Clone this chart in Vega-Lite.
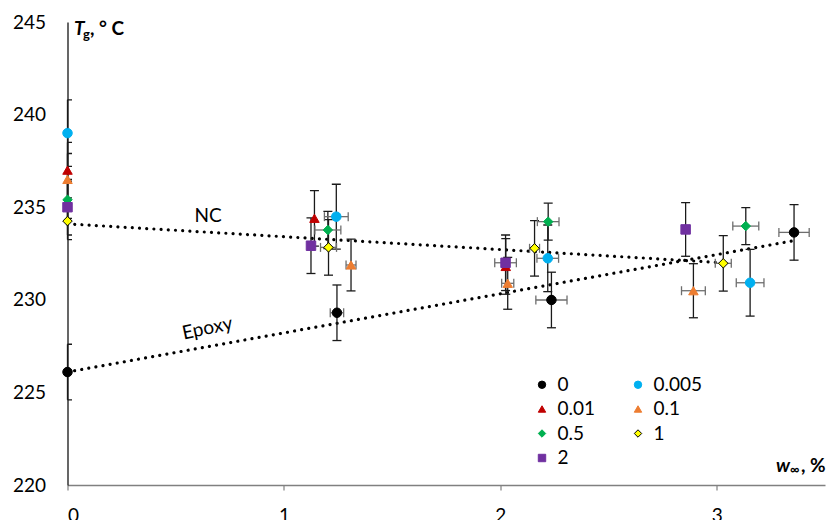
{
  "$schema": "https://vega.github.io/schema/vega-lite/v6.json",
  "width": 757.5,
  "height": 463,
  "autosize": {"type": "none"},
  "padding": {"left": 67.5, "top": 22, "right": 7, "bottom": 35},
  "background": "white",
  "config": {"view": {"stroke": null}, "font": "Lato"},
  "datasets": {
    "pts": [
      {"c": "0", "x": 0, "y": 226.1, "ylo": 224.6, "yhi": 227.6},
      {"c": "0", "x": 1.245, "y": 229.3, "ylo": 227.8, "yhi": 230.8, "xlo": 1.214, "xhi": 1.276},
      {"c": "0", "x": 2.236, "y": 229.99, "ylo": 228.49, "yhi": 231.49, "xlo": 2.164, "xhi": 2.308},
      {"c": "0", "x": 3.357, "y": 233.64, "ylo": 232.14, "yhi": 235.14, "xlo": 3.287, "xhi": 3.427},
      {"c": "0.005", "x": 0, "y": 239.0, "ylo": 237.2, "yhi": 240.8},
      {"c": "0.005", "x": 1.242, "y": 234.49, "ylo": 232.74, "yhi": 236.24, "xlo": 1.187, "xhi": 1.297},
      {"c": "0.005", "x": 2.219, "y": 232.24, "ylo": 230.44, "yhi": 234.04, "xlo": 2.169, "xhi": 2.269},
      {"c": "0.005", "x": 3.154, "y": 230.92, "ylo": 229.12, "yhi": 232.72, "xlo": 3.09, "xhi": 3.218},
      {"c": "0.01", "x": 0, "y": 237.0, "ylo": 235.5, "yhi": 238.5},
      {"c": "0.01", "x": 1.141, "y": 234.4, "ylo": 232.9, "yhi": 235.9},
      {"c": "0.01", "x": 2.025, "y": 231.8, "ylo": 230.3, "yhi": 233.3},
      {"c": "0.1", "x": 0, "y": 236.5, "ylo": 235.1, "yhi": 237.9},
      {"c": "0.1", "x": 1.31, "y": 231.88, "ylo": 230.48, "yhi": 233.28, "xlo": 1.287, "xhi": 1.333},
      {"c": "0.1", "x": 2.034, "y": 230.89, "ylo": 229.49, "yhi": 232.29, "xlo": 2.006, "xhi": 2.062},
      {"c": "0.1", "x": 2.892, "y": 230.49, "ylo": 229.03, "yhi": 231.95, "xlo": 2.837, "xhi": 2.947},
      {"c": "0.5", "x": 0, "y": 235.4, "ylo": 234.4, "yhi": 236.4},
      {"c": "0.5", "x": 1.203, "y": 233.77, "ylo": 232.77, "yhi": 234.77, "xlo": 1.143, "xhi": 1.263},
      {"c": "0.5", "x": 2.221, "y": 234.22, "ylo": 233.22, "yhi": 235.22, "xlo": 2.171, "xhi": 2.271},
      {"c": "0.5", "x": 3.134, "y": 233.98, "ylo": 232.98, "yhi": 234.98, "xlo": 3.074, "xhi": 3.194},
      {"c": "1", "x": 0, "y": 234.25, "ylo": 233.25, "yhi": 235.25},
      {"c": "1", "x": 1.206, "y": 232.83, "ylo": 231.33, "yhi": 234.33, "xlo": 1.169, "xhi": 1.243},
      {"c": "1", "x": 2.158, "y": 232.78, "ylo": 231.28, "yhi": 234.28, "xlo": 2.135, "xhi": 2.181},
      {"c": "1", "x": 3.03, "y": 231.97, "ylo": 230.47, "yhi": 233.47, "xlo": 2.993, "xhi": 3.067},
      {"c": "2", "x": 0, "y": 235.0, "ylo": 233.5, "yhi": 236.5},
      {"c": "2", "x": 1.125, "y": 232.92, "ylo": 231.42, "yhi": 234.42},
      {"c": "2", "x": 2.024, "y": 232.0, "ylo": 230.5, "yhi": 233.5, "xlo": 1.974, "xhi": 2.074},
      {"c": "2", "x": 2.856, "y": 233.8, "ylo": 232.35, "yhi": 235.25}
    ],
    "fits": [
      {"s": "NC", "x": 0, "y": 234.1},
      {"s": "NC", "x": 3.03, "y": 232.0},
      {"s": "Epoxy", "x": 0, "y": 226.1},
      {"s": "Epoxy", "x": 3.36, "y": 233.2}
    ],
    "one": [{"k": 1}]
  },
  "layer": [
    {
      "data": {"name": "fits"},
      "mark": {"type": "line", "color": "black", "strokeWidth": 3.2, "strokeCap": "round", "strokeDash": [0.01, 7.2]},
      "encoding": {
        "x": {"field": "x", "type": "quantitative", "scale": {"domain": [0, 3.5], "nice": false, "zero": false},
          "axis": {"values": [0, 1, 2, 3], "format": "d", "title": null, "grid": false, "labelFontSize": 19, "labelColor": "black", "tickSize": 5, "tickColor": "#808080", "tickWidth": 1.2, "domainColor": "#808080", "domainWidth": 1.6, "labelPadding": 16}},
        "y": {"field": "y", "type": "quantitative", "scale": {"domain": [220, 245], "nice": false, "zero": false},
          "axis": {"values": [220, 225, 230, 235, 240, 245], "title": null, "grid": false, "ticks": false, "labelFontSize": 19, "labelColor": "black", "labelPadding": 22, "domainColor": "black", "domainWidth": 1.2}},
        "detail": {"field": "s", "type": "nominal"}
      }
    },
    {
      "data": {"name": "pts"},
      "mark": {"type": "rule", "color": "#1a1a1a", "strokeWidth": 1.3},
      "encoding": {
        "x": {"field": "x", "type": "quantitative"},
        "y": {"field": "ylo", "type": "quantitative"},
        "y2": {"field": "yhi"}
      }
    },
    {
      "data": {"name": "pts"},
      "mark": {"type": "tick", "orient": "horizontal", "color": "#1a1a1a", "size": 9, "thickness": 1.3, "opacity": 1, "clip": true},
      "encoding": {
        "x": {"field": "x", "type": "quantitative"},
        "y": {"field": "ylo", "type": "quantitative"}
      }
    },
    {
      "data": {"name": "pts"},
      "mark": {"type": "tick", "orient": "horizontal", "color": "#1a1a1a", "size": 9, "thickness": 1.3, "opacity": 1, "clip": true},
      "encoding": {
        "x": {"field": "x", "type": "quantitative"},
        "y": {"field": "yhi", "type": "quantitative"}
      }
    },
    {
      "data": {"name": "pts"},
      "transform": [{"filter": {"field": "xlo", "valid": true}}],
      "mark": {"type": "rule", "color": "#6e6e6e", "strokeWidth": 1.3},
      "encoding": {
        "x": {"field": "xlo", "type": "quantitative"},
        "x2": {"field": "xhi"},
        "y": {"field": "y", "type": "quantitative"}
      }
    },
    {
      "data": {"name": "pts"},
      "transform": [{"filter": {"field": "xlo", "valid": true}}],
      "mark": {"type": "tick", "orient": "vertical", "color": "#6e6e6e", "size": 9, "thickness": 1.3, "opacity": 1},
      "encoding": {
        "x": {"field": "xlo", "type": "quantitative"},
        "y": {"field": "y", "type": "quantitative"}
      }
    },
    {
      "data": {"name": "pts"},
      "transform": [{"filter": {"field": "xlo", "valid": true}}],
      "mark": {"type": "tick", "orient": "vertical", "color": "#6e6e6e", "size": 9, "thickness": 1.3, "opacity": 1},
      "encoding": {
        "x": {"field": "xhi", "type": "quantitative"},
        "y": {"field": "y", "type": "quantitative"}
      }
    },
    {
      "data": {"name": "pts"},
      "mark": {"type": "point", "filled": true, "opacity": 1, "size": 90, "strokeWidth": 1},
      "encoding": {
        "x": {"field": "x", "type": "quantitative"},
        "y": {"field": "y", "type": "quantitative"},
        "fill": {"field": "c", "type": "nominal",
          "scale": {"domain": ["0", "0.01", "0.5", "2", "0.005", "0.1", "1"], "range": ["#000000", "#c00000", "#00b050", "#7030a0", "#00b0f0", "#ed7d31", "#ffff00"]},
          "legend": {"title": null, "orient": "none", "legendX": 465, "legendY": 353, "columns": 2, "columnPadding": 33, "rowPadding": 4.5, "labelFontSize": 19, "labelColor": "black", "labelFont": "Lato", "symbolSize": 55, "labelOffset": 6, "padding": 0, "symbolStrokeWidth": 1}},
        "stroke": {"field": "c", "type": "nominal",
          "scale": {"domain": ["0", "0.01", "0.5", "2", "0.005", "0.1", "1"], "range": ["#000000", "#c00000", "#00b050", "#7030a0", "#00b0f0", "#ed7d31", "#000000"]},
          "legend": {"title": null, "orient": "none", "legendX": 465, "legendY": 353, "columns": 2, "columnPadding": 33, "rowPadding": 4.5, "labelFontSize": 19, "labelColor": "black", "labelFont": "Lato", "symbolSize": 55, "labelOffset": 6, "padding": 0, "symbolStrokeWidth": 1}},
        "shape": {"field": "c", "type": "nominal",
          "scale": {"domain": ["0", "0.01", "0.5", "2", "0.005", "0.1", "1"], "range": ["circle", "triangle-up", "diamond", "square", "circle", "triangle-up", "diamond"]},
          "legend": {"title": null, "orient": "none", "legendX": 465, "legendY": 353, "columns": 2, "columnPadding": 33, "rowPadding": 4.5, "labelFontSize": 19, "labelColor": "black", "labelFont": "Lato", "symbolSize": 55, "labelOffset": 6, "padding": 0, "symbolStrokeWidth": 1}}
      }
    },
    {
      "data": {"name": "one"},
      "mark": {"type": "text", "text": "NC", "fontSize": 19, "align": "center", "baseline": "middle", "color": "black"},
      "encoding": {"x": {"datum": 0.65, "type": "quantitative"}, "y": {"datum": 234.52, "type": "quantitative"}}
    },
    {
      "data": {"name": "one"},
      "mark": {"type": "text", "text": "Epoxy", "fontSize": 19, "align": "center", "baseline": "middle", "angle": 348, "color": "black"},
      "encoding": {"x": {"datum": 0.646, "type": "quantitative"}, "y": {"datum": 228.46, "type": "quantitative"}}
    },
    {
      "data": {"name": "one"},
      "mark": {"type": "text", "text": "T", "fontSize": 19, "fontWeight": "bold", "fontStyle": "italic", "align": "left", "baseline": "alphabetic", "dx": 6.5, "dy": 12.5, "color": "black"},
      "encoding": {"x": {"datum": 0, "type": "quantitative"}, "y": {"datum": 245, "type": "quantitative"}}
    },
    {
      "data": {"name": "one"},
      "mark": {"type": "text", "text": "g", "fontSize": 13, "fontWeight": "bold", "align": "left", "baseline": "alphabetic", "dx": 15.5, "dy": 16.5, "color": "black"},
      "encoding": {"x": {"datum": 0, "type": "quantitative"}, "y": {"datum": 245, "type": "quantitative"}}
    },
    {
      "data": {"name": "one"},
      "mark": {"type": "text", "text": ", ° C", "fontSize": 19, "fontWeight": "bold", "align": "left", "baseline": "alphabetic", "dx": 22.5, "dy": 12.5, "color": "black"},
      "encoding": {"x": {"datum": 0, "type": "quantitative"}, "y": {"datum": 245, "type": "quantitative"}}
    },
    {
      "data": {"name": "one"},
      "mark": {"type": "text", "text": "w", "fontSize": 19, "fontWeight": "bold", "fontStyle": "italic", "align": "left", "baseline": "alphabetic", "dx": -49, "dy": -13, "color": "black"},
      "encoding": {"x": {"datum": 3.5, "type": "quantitative"}, "y": {"datum": 220, "type": "quantitative"}}
    },
    {
      "data": {"name": "one"},
      "mark": {"type": "text", "text": "∞", "fontSize": 13, "fontWeight": "bold", "align": "left", "baseline": "alphabetic", "dx": -35, "dy": -11, "color": "black"},
      "encoding": {"x": {"datum": 3.5, "type": "quantitative"}, "y": {"datum": 220, "type": "quantitative"}}
    },
    {
      "data": {"name": "one"},
      "mark": {"type": "text", "text": ", %", "fontSize": 19, "fontWeight": "bold", "align": "left", "baseline": "alphabetic", "dx": -24, "dy": -13, "color": "black"},
      "encoding": {"x": {"datum": 3.5, "type": "quantitative"}, "y": {"datum": 220, "type": "quantitative"}}
    }
  ]
}
